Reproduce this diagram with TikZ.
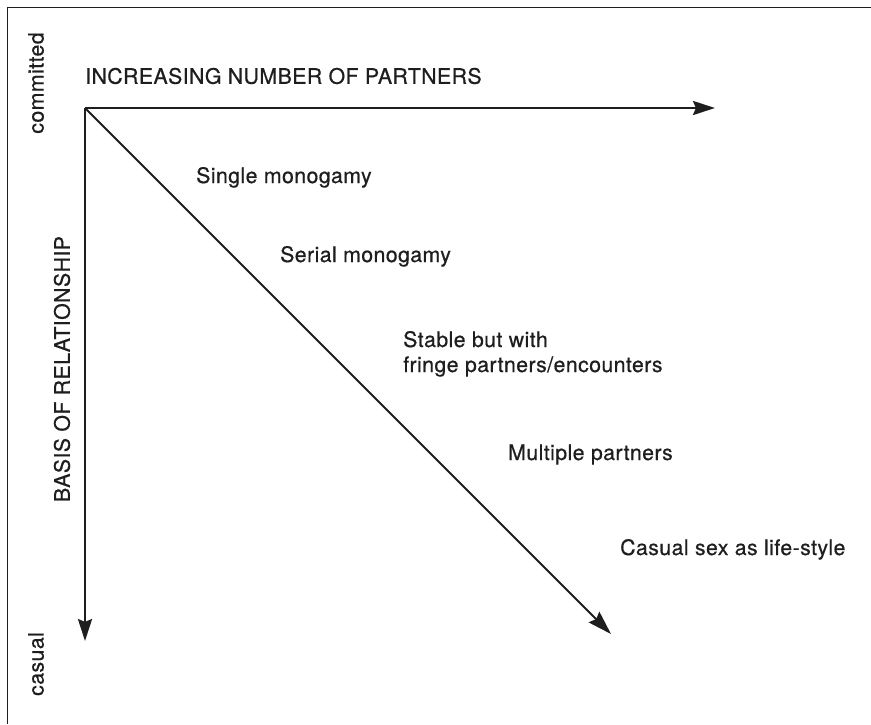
\documentclass[tikz,border=0pt]{standalone}
\usepackage{fontspec}
\setmainfont[LetterSpace=2,FakeBold=0.6]{TeX Gyre Heros}
\usetikzlibrary{arrows.meta}
\definecolor{ink}{HTML}{1E1E1E}
\begin{document}
\begin{tikzpicture}[x=1pt,y=-1pt,
  lbl/.style={font=\fontsize{21.3}{25}\selectfont, text=ink, inner sep=0pt},
  axis/.style={draw=ink, line width=2.6pt, -{Stealth[length=22pt,width=14pt,inset=3pt]}},
  diag/.style={draw=ink, line width=1.8pt, -{Stealth[length=24pt,width=15pt,inset=3pt]}}]
\useasboundingbox (0,0) rectangle (871,724);
\draw[ink, line width=1pt] (7,724) -- (7,7) -- (871,7);
\coordinate (O) at (85,108);
\coordinate (X) at (715,108);
\coordinate (Y) at (85,641);
\coordinate (D) at (611,634);
\draw[axis] (O) -- (X);
\draw[axis] (O) -- (Y);
\draw[diag] (O) -- (D);
\node[lbl, anchor=west] (inc) at (85,76) {INCREASING NUMBER OF PARTNERS};
\node[lbl, rotate=90] (com) at (36,83) {committed};
\node[lbl, rotate=90] (cas) at (36,664) {casual};
\node[lbl, rotate=90] (bas) at (62,369) {BASIS OF RELATIONSHIP};
\node[lbl, anchor=base west] (s1) at (196,183) {Single monogamy};
\node[lbl, anchor=base west] (s2) at (280,262) {Serial monogamy};
\node[lbl, anchor=base west, align=left] (s3) at (403,372) {Stable but with\\fringe partners/encounters};
\node[lbl, anchor=base west] (s4) at (508,460) {Multiple partners};
\node[lbl, anchor=base west] (s5) at (620,555) {Casual sex as life-style};
\end{tikzpicture}
\end{document}
